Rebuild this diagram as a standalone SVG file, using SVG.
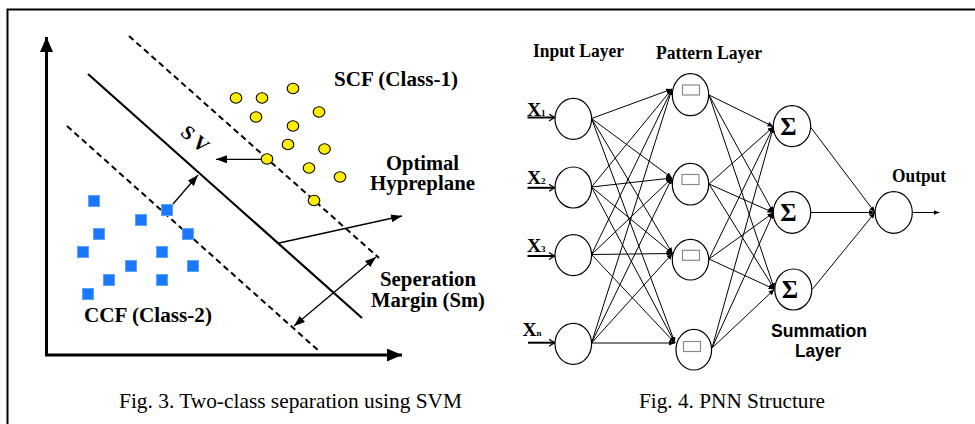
<svg xmlns="http://www.w3.org/2000/svg" width="975" height="424" viewBox="0 0 975 424">
  <style>
    .lbl { font-family: "Liberation Serif", "Times New Roman", serif; font-weight: bold; fill: #000; }
    .cap { font-family: "Liberation Serif", "Times New Roman", serif; font-size: 21px; fill: #000; }
    .sans { font-family: "Liberation Sans", Arial, sans-serif; font-weight: bold; fill: #000; }
    .node { fill: #fff; stroke: #000; stroke-width: 1.2; }
    .proto { fill: none; stroke: #8a8a8a; stroke-width: 1.2; }
    .edge { stroke: #000; stroke-width: 1; fill: none; marker-end: url(#tip); }
    .yel { fill: #ffee00; stroke: #000; stroke-width: 1.1; }
    .blu { fill: #1a78ff; stroke: #5ea2ff; stroke-width: 1; }
    .dash { stroke: #000; stroke-width: 2; stroke-dasharray: 6 4; fill: none; }
    .ptr { stroke: #000; stroke-width: 1.3; fill: none; }
  </style>
  <defs>
    <marker id="axis" markerUnits="userSpaceOnUse" markerWidth="16" markerHeight="14" refX="15" refY="6.5" orient="auto">
      <path d="M0,0 L15,6.5 L0,13 z" fill="#000"/>
    </marker>
    <marker id="arr" markerUnits="userSpaceOnUse" markerWidth="12" markerHeight="10" refX="11" refY="4" orient="auto-start-reverse">
      <path d="M0,0 L11,4 L0,8 z" fill="#000"/>
    </marker>
    <marker id="tip" markerUnits="userSpaceOnUse" markerWidth="7" markerHeight="6" refX="6" refY="2.5" orient="auto">
      <path d="M0,0 L6,2.5 L0,5 z" fill="#000"/>
    </marker>
    <marker id="chev" markerUnits="userSpaceOnUse" markerWidth="8" markerHeight="9" refX="6" refY="4" orient="auto">
      <path d="M0.5,0.5 L6,4 L0.5,7.5" fill="none" stroke="#000" stroke-width="1.3"/>
    </marker>
  </defs>

  <rect width="975" height="424" fill="#fff"/>
  <!-- frame: top and left rules only -->
  <path d="M7.5,424 V9.5 H975" fill="none" stroke="#000" stroke-width="2"/>

  <!-- ===== SVM panel ===== -->
  <g id="svm-axes">
    <line x1="46.5" y1="356" x2="46.5" y2="37" stroke="#000" stroke-width="3" marker-end="url(#axis)"/>
    <line x1="45" y1="355" x2="402" y2="355" stroke="#000" stroke-width="3" marker-end="url(#axis)"/>
  </g>
  <g id="svm-boundaries">
    <line x1="88" y1="74" x2="362" y2="318" stroke="#000" stroke-width="2.2"/>
    <line class="dash" x1="129" y1="36" x2="379" y2="258"/>
    <line class="dash" x1="67" y1="126" x2="320" y2="352"/>
  </g>
  <g id="class-1">
    <ellipse class="yel" cx="236" cy="98" rx="5.8" ry="5.2"/>
    <ellipse class="yel" cx="262" cy="98" rx="5.8" ry="5.2"/>
    <ellipse class="yel" cx="293" cy="88.5" rx="5.8" ry="5.2"/>
    <ellipse class="yel" cx="256" cy="117" rx="5.8" ry="5.2"/>
    <ellipse class="yel" cx="319" cy="112" rx="5.8" ry="5.2"/>
    <ellipse class="yel" cx="293" cy="126" rx="5.8" ry="5.2"/>
    <ellipse class="yel" cx="288" cy="144.5" rx="5.8" ry="5.2"/>
    <ellipse class="yel" cx="324.5" cy="149" rx="5.8" ry="5.2"/>
    <ellipse class="yel" cx="309" cy="168" rx="5.8" ry="5.2"/>
    <ellipse class="yel" cx="340" cy="177" rx="5.8" ry="5.2"/>
    <ellipse class="yel" cx="314" cy="200.5" rx="5.8" ry="5.2"/>
  </g>
  <g id="class-2">
    <rect class="blu" x="88.5" y="195.5" width="11" height="11"/>
    <rect class="blu" x="135.5" y="214.5" width="11" height="11"/>
    <rect class="blu" x="93.5" y="228.5" width="11" height="11"/>
    <rect class="blu" x="182.5" y="228.5" width="11" height="11"/>
    <rect class="blu" x="77.5" y="246.5" width="11" height="11"/>
    <rect class="blu" x="156.5" y="246.5" width="11" height="11"/>
    <rect class="blu" x="125.5" y="260.5" width="11" height="11"/>
    <rect class="blu" x="187.5" y="260.5" width="11" height="11"/>
    <rect class="blu" x="103.5" y="274.5" width="11" height="11"/>
    <rect class="blu" x="156.5" y="274.5" width="11" height="11"/>
    <rect class="blu" x="82.5" y="288.5" width="11" height="11"/>
  </g>
  <g id="support-vectors">
    <ellipse class="yel" cx="267" cy="159" rx="5.8" ry="5.2"/>
    <rect class="blu" x="161.5" y="204.5" width="11" height="11"/>
  </g>
  <g id="svm-pointers">
    <line class="ptr" x1="261.5" y1="159.3" x2="216" y2="159.3" marker-end="url(#arr)"/>
    <line class="ptr" x1="173" y1="204" x2="198" y2="175" marker-end="url(#arr)"/>
    <line class="ptr" x1="279" y1="243" x2="402" y2="216" marker-end="url(#arr)"/>
    <line class="ptr" x1="294" y1="326" x2="376" y2="257" marker-start="url(#arr)" marker-end="url(#arr)"/>
  </g>
  <g id="svm-labels">
    <text class="lbl" font-size="20" text-anchor="middle" transform="translate(195,139) rotate(41)" y="6.5" textLength="30" lengthAdjust="spacing">S V</text>
    <text class="lbl" font-size="20.5" x="334" y="86" textLength="124" lengthAdjust="spacingAndGlyphs">SCF (Class-1)</text>
    <text class="lbl" font-size="20.5" x="386" y="169.5" textLength="73" lengthAdjust="spacingAndGlyphs">Optimal</text>
    <text class="lbl" font-size="20.5" x="370" y="190" textLength="105" lengthAdjust="spacingAndGlyphs">Hypreplane</text>
    <text class="lbl" font-size="20.5" x="380" y="286" textLength="96" lengthAdjust="spacingAndGlyphs">Seperation</text>
    <text class="lbl" font-size="20.5" x="371" y="307" textLength="114" lengthAdjust="spacingAndGlyphs">Margin (Sm)</text>
    <text class="lbl" font-size="20.5" x="84" y="322" textLength="128" lengthAdjust="spacingAndGlyphs">CCF (Class-2)</text>
    <text class="cap" x="119" y="408" textLength="343" lengthAdjust="spacingAndGlyphs">Fig. 3. Two-class separation using SVM</text>
  </g>

  <!-- ===== PNN panel ===== -->
  <g id="connectors">
    <!-- input layer -> pattern layer -->
    <line class="edge" x1="591.5" y1="118.5" x2="672" y2="89"/>
    <line class="edge" x1="591.5" y1="118.5" x2="672" y2="178"/>
    <line class="edge" x1="591.5" y1="118.5" x2="672.5" y2="253.5"/>
    <line class="edge" x1="591.5" y1="118.5" x2="675" y2="343"/>
    <line class="edge" x1="591.5" y1="187" x2="672" y2="89"/>
    <line class="edge" x1="591.5" y1="187" x2="672" y2="178"/>
    <line class="edge" x1="591.5" y1="187" x2="672.5" y2="253.5"/>
    <line class="edge" x1="591.5" y1="187" x2="675" y2="343"/>
    <line class="edge" x1="591.5" y1="254.5" x2="672" y2="89"/>
    <line class="edge" x1="591.5" y1="254.5" x2="672" y2="178"/>
    <line class="edge" x1="591.5" y1="254.5" x2="672.5" y2="253.5"/>
    <line class="edge" x1="591.5" y1="254.5" x2="675" y2="343"/>
    <line class="edge" x1="591.5" y1="343" x2="672" y2="89"/>
    <line class="edge" x1="591.5" y1="343" x2="672" y2="178"/>
    <line class="edge" x1="591.5" y1="343" x2="672.5" y2="253.5"/>
    <line class="edge" x1="591.5" y1="343" x2="675" y2="343"/>
    <!-- pattern layer -> summation layer -->
    <line class="edge" x1="709" y1="95" x2="773.5" y2="126.7"/>
    <line class="edge" x1="709" y1="95" x2="773.5" y2="212.7"/>
    <line class="edge" x1="709" y1="95" x2="774.5" y2="289.3"/>
    <line class="edge" x1="709" y1="184" x2="773.5" y2="126.7"/>
    <line class="edge" x1="709" y1="184" x2="773.5" y2="212.7"/>
    <line class="edge" x1="709" y1="184" x2="774.5" y2="289.3"/>
    <line class="edge" x1="709" y1="259" x2="773.5" y2="126.7"/>
    <line class="edge" x1="709" y1="259" x2="773.5" y2="212.7"/>
    <line class="edge" x1="709" y1="259" x2="774.5" y2="289.3"/>
    <line class="edge" x1="712" y1="348" x2="773.5" y2="126.7"/>
    <line class="edge" x1="712" y1="348" x2="773.5" y2="212.7"/>
    <line class="edge" x1="712" y1="348" x2="774.5" y2="289.3"/>
    <!-- summation layer -> output -->
    <line class="edge" x1="811" y1="127.7" x2="875" y2="212.5"/>
    <line class="edge" x1="811" y1="212.5" x2="875" y2="212.5"/>
    <line class="edge" x1="812.3" y1="289.3" x2="875" y2="212.5"/>
    <line class="edge" x1="912.3" y1="212.5" x2="939.5" y2="212.5"/>
    <!-- feature inputs -->
    <line x1="527.5" y1="117.5" x2="554.5" y2="117.5" stroke="#000" stroke-width="2" marker-end="url(#chev)"/>
    <line x1="527.5" y1="187.8" x2="554.5" y2="187.8" stroke="#000" stroke-width="2" marker-end="url(#chev)"/>
    <line x1="527.5" y1="256" x2="554.5" y2="256" stroke="#000" stroke-width="2" marker-end="url(#chev)"/>
    <line x1="528" y1="342.7" x2="554.5" y2="342.7" stroke="#000" stroke-width="2" marker-end="url(#chev)"/>
  </g>

  <g id="in1"><ellipse class="node" cx="573.3" cy="118.8" rx="18.3" ry="20.5"/></g>
  <g id="in2"><ellipse class="node" cx="573.3" cy="187.5" rx="18.3" ry="20.5"/></g>
  <g id="in3"><ellipse class="node" cx="573.3" cy="255.2" rx="18.3" ry="20.5"/></g>
  <g id="in4"><ellipse class="node" cx="573.3" cy="343.8" rx="18.3" ry="20.5"/></g>

  <g id="pat1"><ellipse class="node" cx="690.5" cy="94.7" rx="18.2" ry="21"/><rect class="proto" x="682.5" y="85" width="17" height="10"/></g>
  <g id="pat2"><ellipse class="node" cx="690.5" cy="184.2" rx="18.2" ry="20.8"/><rect class="proto" x="682" y="174.5" width="17" height="10"/></g>
  <g id="pat3"><ellipse class="node" cx="690.5" cy="259.7" rx="18.2" ry="20.3"/><rect class="proto" x="682.5" y="250.3" width="17" height="10"/></g>
  <g id="pat4"><ellipse class="node" cx="693.8" cy="349.7" rx="17.8" ry="20.3"/><rect class="proto" x="683.5" y="341.5" width="17" height="10"/></g>

  <g id="sum1"><ellipse class="node" cx="792" cy="126.2" rx="18.7" ry="20.5"/><text class="lbl" font-size="25" x="788.5" y="135" text-anchor="middle">Σ</text></g>
  <g id="sum2"><ellipse class="node" cx="792" cy="212.5" rx="18.7" ry="20.8"/><text class="lbl" font-size="25" x="788.5" y="221.3" text-anchor="middle">Σ</text></g>
  <g id="sum3"><ellipse class="node" cx="793.3" cy="289.5" rx="18.5" ry="20.5"/><text class="lbl" font-size="25" x="790" y="298.3" text-anchor="middle">Σ</text></g>

  <g id="out"><ellipse class="node" cx="893.7" cy="212.5" rx="18.6" ry="20.8"/></g>

  <g id="pnn-labels">
    <text class="lbl" font-size="18.5" x="533" y="57.3" textLength="91" lengthAdjust="spacingAndGlyphs">Input Layer</text>
    <text class="lbl" font-size="18.5" x="656" y="59" textLength="106" lengthAdjust="spacingAndGlyphs">Pattern Layer</text>
    <text class="lbl" font-size="18.5" x="892" y="182" textLength="54" lengthAdjust="spacingAndGlyphs">Output</text>
    <text class="sans" font-size="18" x="771" y="336.5" textLength="96" lengthAdjust="spacingAndGlyphs">Summation</text>
    <text class="sans" font-size="18" x="795" y="357" textLength="46" lengthAdjust="spacingAndGlyphs">Layer</text>
    <text class="lbl" font-size="19.5" x="527" y="115.5">X<tspan font-size="9">1</tspan></text>
    <text class="lbl" font-size="19.5" x="527" y="183.5">X<tspan font-size="9">2</tspan></text>
    <text class="lbl" font-size="19.5" x="527" y="252.3">X<tspan font-size="9">3</tspan></text>
    <text class="lbl" font-size="19.5" x="522.5" y="336">X<tspan font-size="9">n</tspan></text>
    <text class="cap" x="639" y="408" textLength="186" lengthAdjust="spacingAndGlyphs">Fig. 4. PNN Structure</text>
  </g>
</svg>
